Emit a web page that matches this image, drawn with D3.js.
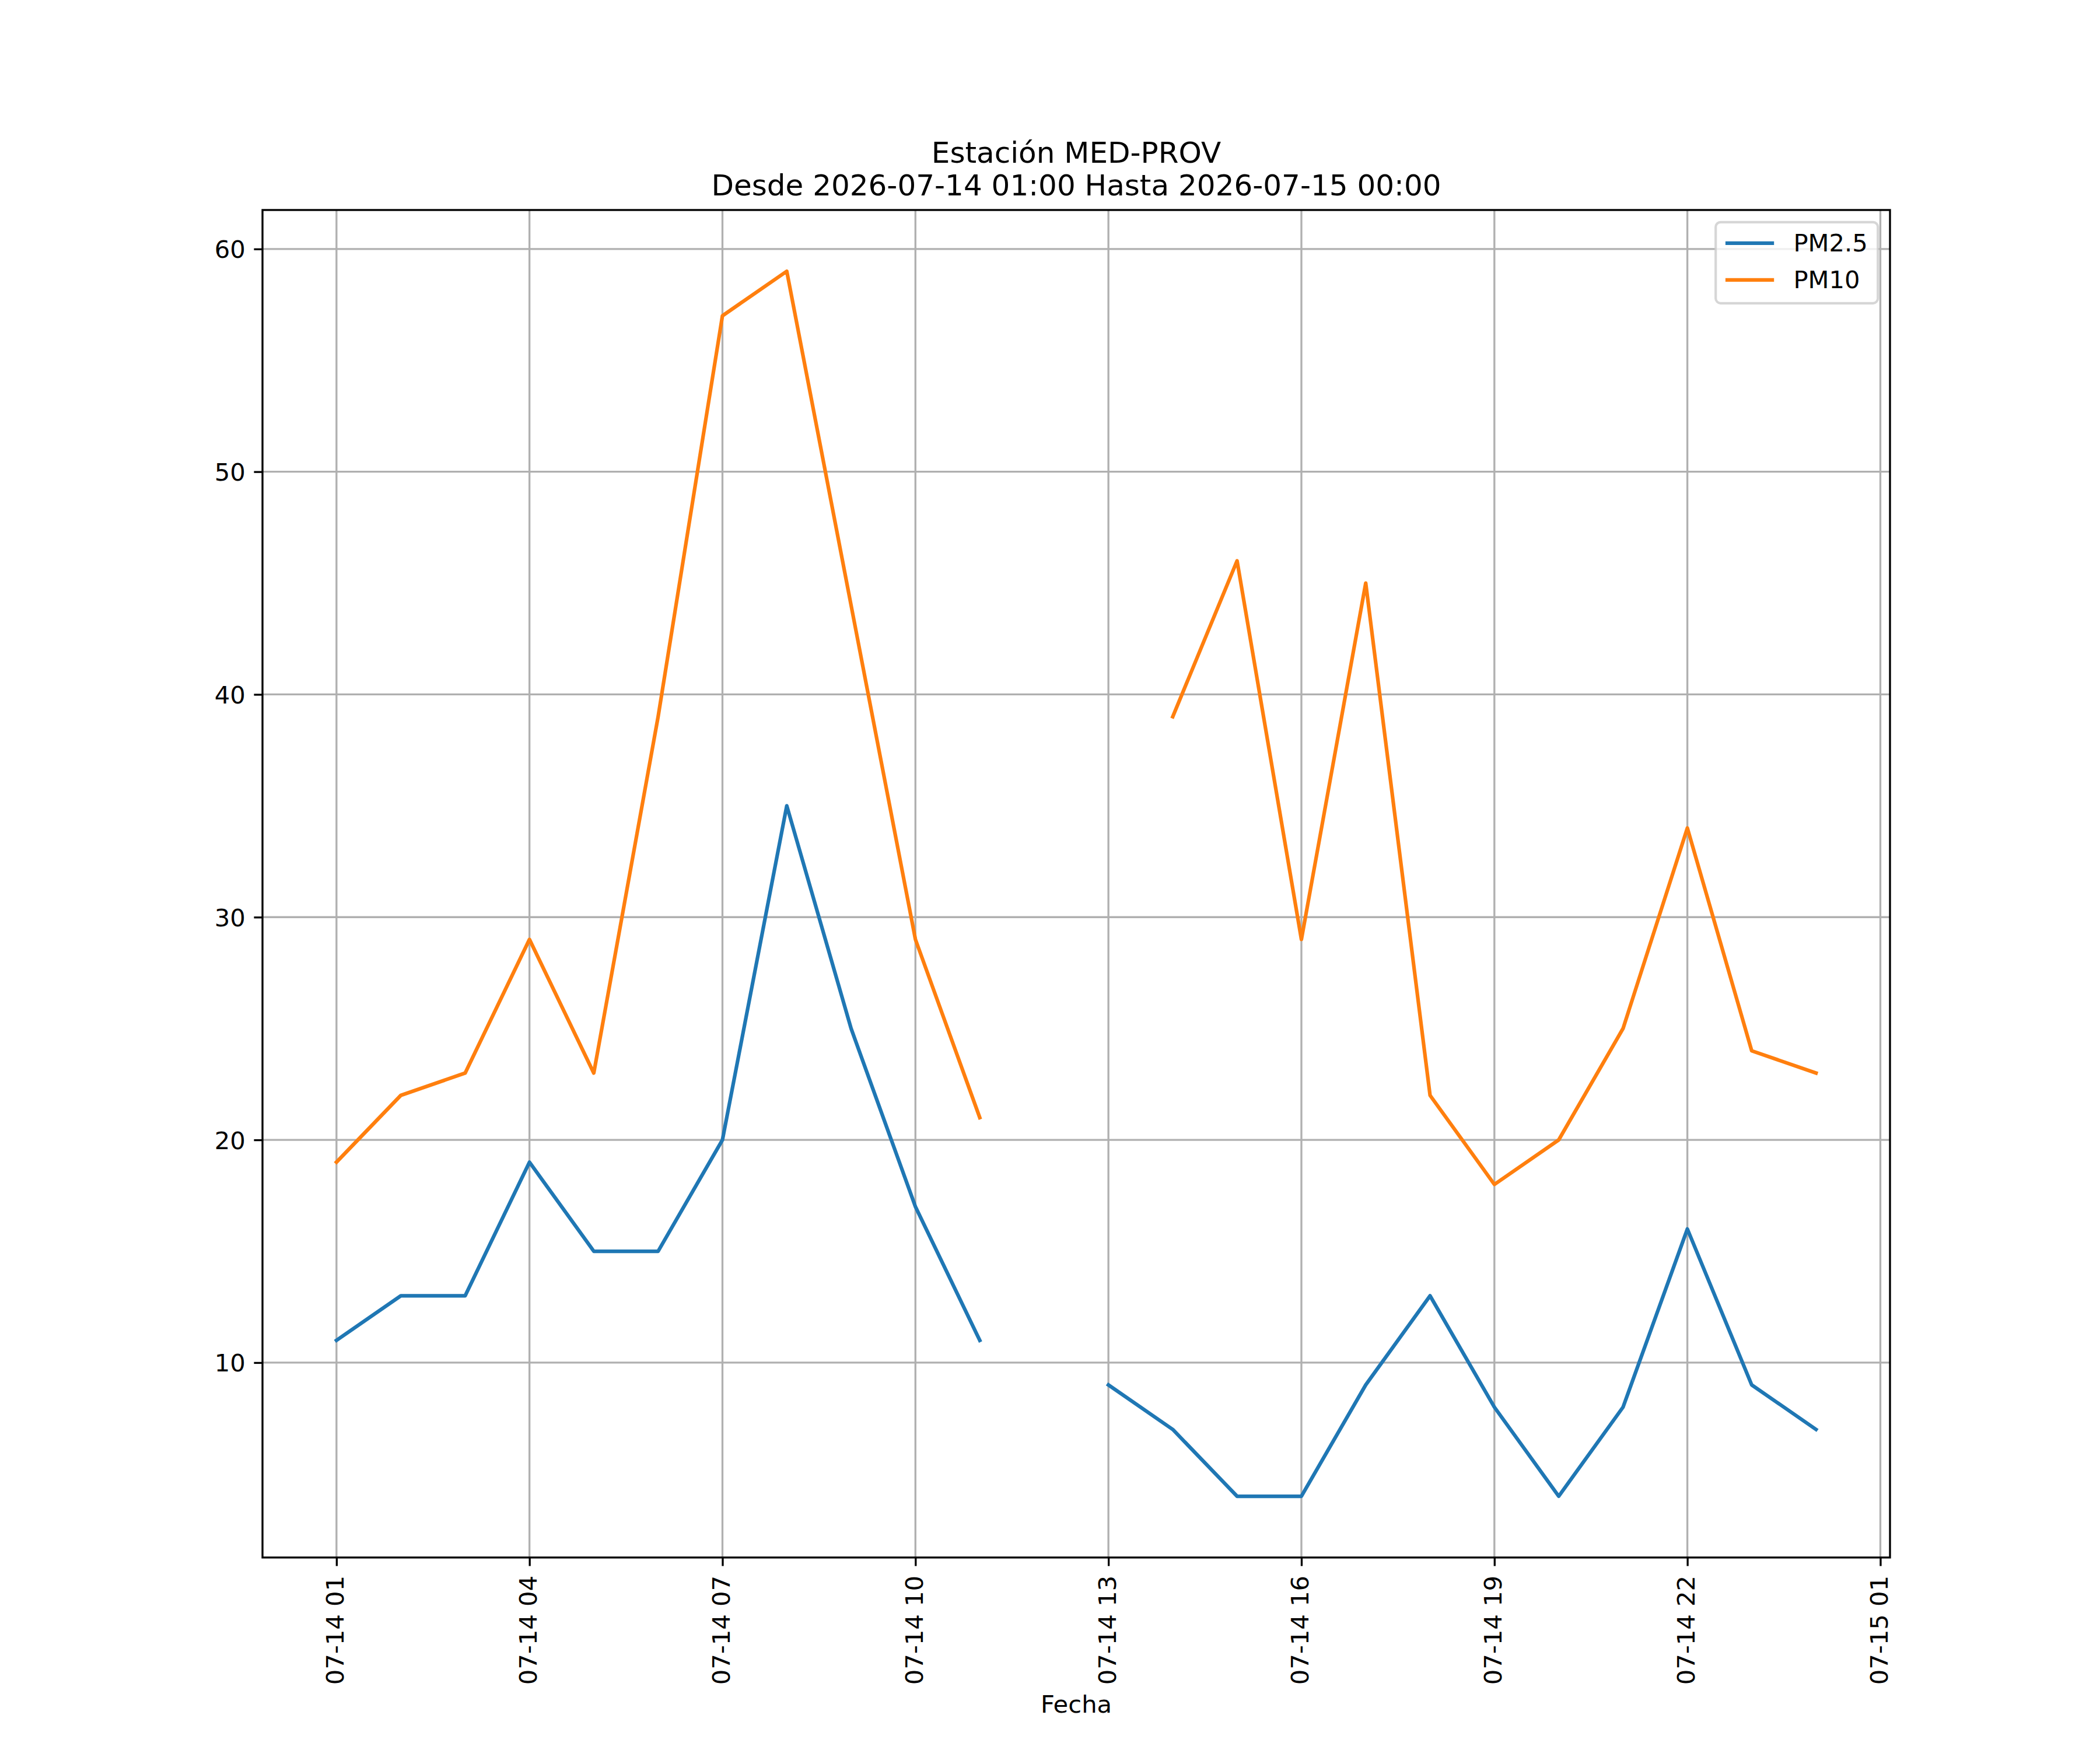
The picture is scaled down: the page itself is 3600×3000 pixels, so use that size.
<!DOCTYPE html>
<html>
<head>
<meta charset="utf-8">
<script src="https://cdn.jsdelivr.net/npm/d3@7"></script>
<style>
  body { margin: 0; background: #fff; }
  svg { display: block; font-family: "DejaVu Sans", sans-serif; }
</style>
</head>
<body>
<script>
const horas = [
    '2026-07-14 01:00', '2026-07-14 02:00', '2026-07-14 03:00', '2026-07-14 04:00',
    '2026-07-14 05:00', '2026-07-14 06:00', '2026-07-14 07:00', '2026-07-14 08:00',
    '2026-07-14 09:00', '2026-07-14 10:00', '2026-07-14 11:00', '2026-07-14 12:00',
    '2026-07-14 13:00', '2026-07-14 14:00', '2026-07-14 15:00', '2026-07-14 16:00',
    '2026-07-14 17:00', '2026-07-14 18:00', '2026-07-14 19:00', '2026-07-14 20:00',
    '2026-07-14 21:00', '2026-07-14 22:00', '2026-07-14 23:00', '2026-07-15 00:00'
];
const pm25 = [11, 13, 13, 19, 15, 15, 20, 35, 25, 17, 11, null,
              9, 7, 4, 4, 9, 13, 8, 4, 8, 16, 9, 7];
const pm10 = [19, 22, 23, 29, 23, 39, 57, 59, 44, 29, 21, null,
              null, 39, 46, 29, 45, 22, 18, 20, 25, 34, 24, 23];
const yTicks = [10, 20, 30, 40, 50, 60];

const series = [
    { name: 'PM2.5', values: pm25, color: '#1f77b4' },
    { name: 'PM10', values: pm10, color: '#ff7f0e' }
];

const width = 3600;
const height = 3000;
const margin = { left: 450, right: 360, top: 360, bottom: 330 };
const fs = 41.67;      // 10pt at 300 dpi
const lw = 3.33;       // 0.8pt

const parse = d3.utcParse('%Y-%m-%d %H:%M');
const dates = horas.map(parse);

const svg = d3.select('body')
    .append('svg')
    .attr('width', width)
    .attr('height', height);

const plotW = width - margin.left - margin.right;
const plotH = height - margin.top - margin.bottom;

// 5% margins like matplotlib
const t0 = dates[0], t1 = dates[dates.length - 1];
const pad = (t1 - t0) * 0.05;
const x = d3.scaleUtc()
    .domain([new Date(+t0 - pad), new Date(+t1 + pad)])
    .range([margin.left, margin.left + plotW]);

const allVals = pm25.concat(pm10).filter(v => v !== null);
const yMin = d3.min(allVals), yMax = d3.max(allVals);
const yPad = (yMax - yMin) * 0.05;
const y = d3.scaleLinear()
    .domain([yMin - yPad, yMax + yPad])
    .range([margin.top + plotH, margin.top]);

const xTicks = d3.utcHour.range(t0, new Date(+x.domain()[1] + 1), 3);
const fmt = d3.utcFormat('%m-%d %H');

// grid
const grid = svg.append('g');
grid.selectAll('.gx')
    .data(xTicks)
    .enter()
    .append('line')
    .attr('x1', d => x(d)).attr('x2', d => x(d))
    .attr('y1', margin.top).attr('y2', margin.top + plotH)
    .attr('stroke', '#b0b0b0').attr('stroke-width', lw);
grid.selectAll('.gy')
    .data(yTicks)
    .enter()
    .append('line')
    .attr('x1', margin.left).attr('x2', margin.left + plotW)
    .attr('y1', d => y(d)).attr('y2', d => y(d))
    .attr('stroke', '#b0b0b0').attr('stroke-width', lw);

// series lines
const line = d3.line()
    .defined(d => d.v !== null)
    .x(d => x(d.t))
    .y(d => y(d.v));

series.forEach(s => {
    svg.append('path')
        .datum(s.values.map((v, i) => ({ t: dates[i], v: v })))
        .attr('fill', 'none')
        .attr('stroke', s.color)
        .attr('stroke-width', 6.25)
        .attr('stroke-linejoin', 'round')
        .attr('stroke-linecap', 'square')
        .attr('d', line);
});

// axes
const xAxis = svg.append('g')
    .attr('transform', `translate(0,${margin.top + plotH})`)
    .call(d3.axisBottom(x).tickValues(xTicks).tickFormat(fmt).tickSize(14.6).tickSizeOuter(0));
xAxis.select('.domain').remove();
xAxis.selectAll('.tick line').attr('stroke', '#000').attr('stroke-width', lw);
xAxis.selectAll('.tick text')
    .attr('font-size', fs)
    .attr('font-family', '"DejaVu Sans", sans-serif')
    .attr('fill', '#000')
    .attr('text-anchor', 'end')
    .attr('dy', null)
    .attr('y', null)
    .attr('transform', 'translate(12,31) rotate(-90)');

const yAxis = svg.append('g')
    .attr('transform', `translate(${margin.left},0)`)
    .call(d3.axisLeft(y).tickValues(yTicks).tickSize(14.6).tickPadding(14.6).tickSizeOuter(0));
yAxis.select('.domain').remove();
yAxis.selectAll('.tick line').attr('stroke', '#000').attr('stroke-width', lw);
yAxis.selectAll('.tick text')
    .attr('font-size', fs)
    .attr('font-family', '"DejaVu Sans", sans-serif')
    .attr('fill', '#000')
    .attr('dy', '0.36em');

// spines
svg.append('rect')
    .attr('x', margin.left).attr('y', margin.top)
    .attr('width', plotW).attr('height', plotH)
    .attr('fill', 'none')
    .attr('stroke', '#000')
    .attr('stroke-width', lw);

// title
const cx = margin.left + plotW / 2;
svg.append('text')
    .attr('x', cx).attr('y', 279)
    .attr('text-anchor', 'middle')
    .attr('font-size', 50)
    .text('Estación MED-PROV');
svg.append('text')
    .attr('x', cx).attr('y', 335)
    .attr('text-anchor', 'middle')
    .attr('font-size', 50)
    .text('Desde 2026-07-14 01:00 Hasta 2026-07-15 00:00');

// x label
svg.append('text')
    .attr('x', cx).attr('y', 2936)
    .attr('text-anchor', 'middle')
    .attr('font-size', fs)
    .text('Fecha');

// legend
const lg = svg.append('g');
const lgW = 278, lgH = 139;
const lgX = margin.left + plotW - 20.8 - lgW;
const lgY = margin.top + 20.8;
lg.append('rect')
    .attr('x', lgX).attr('y', lgY)
    .attr('width', lgW).attr('height', lgH)
    .attr('rx', 8.3).attr('ry', 8.3)
    .attr('fill', 'rgba(255,255,255,0.8)')
    .attr('stroke', 'rgba(204,204,204,0.8)')
    .attr('stroke-width', 4.17);

series.forEach((s, i) => {
    const ry = lgY + 36 + i * 63;
    lg.append('line')
        .attr('x1', lgX + 16.7).attr('x2', lgX + 100)
        .attr('y1', ry).attr('y2', ry)
        .attr('stroke', s.color)
        .attr('stroke-width', 6.25);
    lg.append('text')
        .attr('x', lgX + 133.3).attr('y', ry + 14.5)
        .attr('font-size', fs)
        .text(s.name);
});
</script>
</body>
</html>
